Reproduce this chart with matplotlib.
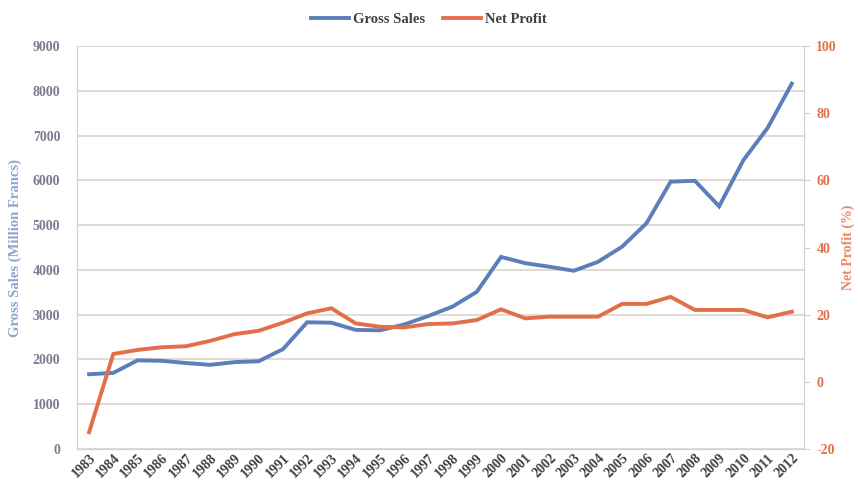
import matplotlib.pyplot as plt

plt.rcParams['axes.unicode_minus'] = False

# data
years = list(range(1983, 2013))
gross_sales = [1670, 1700, 1980, 1970, 1920, 1880, 1940, 1960, 2230, 2830,
               2820, 2660, 2650, 2780, 2970, 3180, 3510, 4290, 4150, 4070,
               3980, 4180, 4520, 5040, 5970, 5990, 5420, 6450, 7170, 8160]
net_profit = [-15, 8.3, 9.5, 10.3, 10.6, 12.2, 14.2, 15.2, 17.6, 20.4,
              21.9, 17.4, 16.4, 16.2, 17.2, 17.4, 18.4, 21.6, 18.9, 19.4,
              19.4, 19.4, 23.2, 23.2, 25.3, 21.4, 21.4, 21.4, 19.2, 20.9]

blue = '#5a7fba'
orange = '#e26f4b'
grid_col = '#ddd3cd'
font = 'Liberation Serif'

fig = plt.figure(figsize=(8.58, 4.98), dpi=100)
ax = fig.add_axes([0.0897, 0.0984, 0.8473, 0.8092])
ax2 = ax.twinx()

x = list(range(len(years)))
l1, = ax.plot(x, gross_sales, color=blue, lw=2.8, solid_joinstyle='miter', label='Gross Sales')
l2, = ax2.plot(x, net_profit, color=orange, lw=2.8, solid_joinstyle='miter', label='Net Profit')

ax.set_xlim(-0.5, len(years) - 0.5)
ax.set_ylim(0, 9000)
ax.set_yticks(range(0, 9001, 1000))
ax2.set_ylim(-20, 100)
ax2.set_yticks(range(-20, 101, 20))

ax.yaxis.grid(True, color=grid_col, lw=1.2)
ax.set_axisbelow(True)

for a in (ax, ax2):
    for s in a.spines.values():
        s.set_color('#d9d0cb')
    a.spines['top'].set_visible(False)

ax.tick_params(axis='y', length=0, pad=12, labelsize=10, labelcolor='#7a7a90')
ax.tick_params(axis='x', length=0, pad=2, labelsize=10, labelcolor='#404040')
ax2.tick_params(axis='y', length=4, color='#d9d0cb', pad=5, labelsize=10, labelcolor=orange)

ax.set_xticks(x)
ax.set_xticklabels([str(y) for y in years], rotation=45, ha='right',
                   rotation_mode='anchor', family=font, fontweight='bold')
for t in ax.get_yticklabels():
    t.set_family(font)
    t.set_fontweight('bold')
for t in ax2.get_yticklabels():
    t.set_family(font)
    t.set_fontweight('bold')

ax.set_ylabel('Gross Sales (Million Francs)', color='#8ea4cc', family=font,
              fontweight='bold', fontsize=10.5, labelpad=8)
ax2.set_ylabel('Net Profit (%)', color='#e58a6a', family=font,
               fontweight='bold', fontsize=10, labelpad=3)

fig.legend(handles=[l1, l2], loc='upper center', bbox_to_anchor=(0.5, 1.0),
           ncol=2, frameon=False, handlelength=2.6, columnspacing=1.2,
           handletextpad=0.3, prop={'family': font, 'weight': 'bold', 'size': 10.5},
           labelcolor='#404040')

fig.savefig('out.png', dpi=100)
